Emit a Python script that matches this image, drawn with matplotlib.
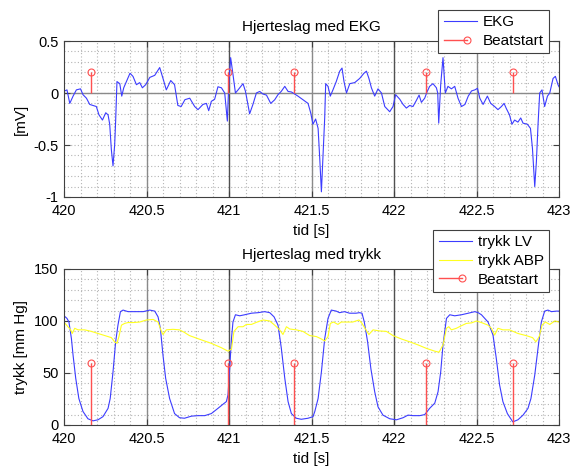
import matplotlib
matplotlib.use("Agg")
import matplotlib.pyplot as plt
from matplotlib.lines import Line2D
from matplotlib.legend_handler import HandlerLine2D
import numpy as np

plt.rcParams['font.family'] = ['Liberation Sans', 'DejaVu Sans']

# ---------------- data ----------------
ekg_t = [420.0, 420.004, 420.018, 420.035, 420.055, 420.075, 420.10, 420.115, 420.136, 420.156,
         420.176, 420.196, 420.212, 420.233, 420.253, 420.267, 420.277, 420.287, 420.297, 420.307,
         420.313, 420.321, 420.338, 420.35, 420.362, 420.378, 420.40, 420.418, 420.439, 420.459,
         420.475, 420.495, 420.52, 420.55, 420.58, 420.60, 420.62, 420.647, 420.67, 420.69,
         420.71, 420.733, 420.762, 420.792, 420.812, 420.842, 420.863, 420.877, 420.893, 420.913,
         420.933, 420.954, 420.974, 420.99, 420.998, 421.01, 421.024, 421.039, 421.055, 421.085,
         421.10, 421.125, 421.145, 421.166, 421.186, 421.206, 421.227, 421.253, 421.277, 421.297,
         421.317, 421.338, 421.358, 421.378, 421.398, 421.418, 421.448, 421.479, 421.495, 421.509,
         421.525, 421.54, 421.55, 421.56, 421.57, 421.58, 421.586, 421.60, 421.614, 421.63,
         421.65, 421.671, 421.685, 421.697, 421.712, 421.732, 421.762, 421.792, 421.818, 421.833,
         421.848, 421.863, 421.883, 421.903, 421.924, 421.944, 421.974, 421.994, 422.01, 422.035,
         422.055, 422.075, 422.095, 422.115, 422.136, 422.152, 422.166, 422.186, 422.20, 422.216,
         422.236, 422.257, 422.265, 422.271, 422.283, 422.297, 422.311, 422.327, 422.348, 422.368,
         422.388, 422.409, 422.43, 422.45, 422.47, 422.49, 422.506, 422.52, 422.54, 422.566,
         422.586, 422.61, 422.63, 422.651, 422.667, 422.681, 422.70, 422.715, 422.731, 422.751,
         422.768, 422.782, 422.808, 422.827, 422.839, 422.853, 422.863, 422.873, 422.883, 422.897,
         422.913, 422.93, 422.944, 422.964, 422.978, 422.994, 423.0]
ekg_v = [0.0, 0.02, 0.03, -0.10, -0.03, 0.03, 0.04, -0.016, -0.05, -0.11,
         -0.12, -0.13, -0.21, -0.26, -0.19, -0.21, -0.30, -0.545, -0.70, -0.50,
         -0.27, 0.11, 0.09, -0.03, 0.05, 0.11, 0.19, 0.16, 0.08, 0.10,
         0.05, 0.08, 0.15, 0.17, 0.245, 0.14, 0.03, 0.12, 0.08, -0.12,
         -0.13, -0.064, -0.05, -0.13, -0.16, -0.11, -0.10, -0.17, -0.08, -0.06,
         0.06, 0.05, 0.0, -0.27, 0.06, 0.34, 0.18, 0.0, 0.03, 0.09,
         0.015, -0.20, -0.11, 0.0, 0.015, -0.01, -0.02, -0.10, -0.065, -0.016,
         0.016, 0.064, 0.015, 0.01, -0.01, -0.03, -0.065, -0.10, -0.19, -0.30,
         -0.25, -0.34, -0.63, -0.95, -0.59, -0.24, 0.09, 0.064, -0.03, 0.03,
         0.11, 0.21, 0.24, 0.11, 0.0, 0.09, 0.10, 0.14, 0.19, 0.21,
         0.14, 0.05, -0.03, 0.04, 0.0, -0.13, -0.18, -0.13, -0.016, -0.06,
         -0.11, -0.145, -0.12, -0.13, -0.07, -0.02, -0.09, -0.05, 0.01, 0.064,
         0.09, 0.05, 0.0, -0.29, 0.08, 0.34, 0.0, 0.064, 0.04, 0.064,
         -0.05, -0.13, -0.11, -0.03, 0.02, 0.03, 0.045, -0.05, -0.11, -0.03,
         -0.10, -0.13, -0.16, -0.13, -0.10, -0.15, -0.21, -0.30, -0.26, -0.28,
         -0.24, -0.29, -0.30, -0.34, -0.53, -0.90, -0.66, -0.30, 0.0, 0.03,
         -0.13, -0.03, 0.0, 0.14, 0.16, 0.08, 0.06]

lv_t = [420.0, 420.018, 420.03, 420.045, 420.055, 420.071, 420.09, 420.115, 420.145, 420.176,
        420.206, 420.236, 420.267, 420.28, 420.297, 420.313, 420.327, 420.342, 420.358, 420.388,
        420.439, 420.48, 420.52, 420.55, 420.57, 420.584, 420.60, 420.616, 420.64, 420.67,
        420.70, 420.73, 420.772, 420.812, 420.853, 420.893, 420.933, 420.964, 420.984, 420.994,
        421.004, 421.015, 421.024, 421.039, 421.065, 421.095, 421.136, 421.176, 421.216, 421.247,
        421.273, 421.297, 421.317, 421.338, 421.358, 421.378, 421.408, 421.438, 421.479, 421.509,
        421.52, 421.54, 421.56, 421.58, 421.60, 421.62, 421.65, 421.67, 421.70, 421.73,
        421.77, 421.79, 421.806, 421.82, 421.84, 421.86, 421.883, 421.903, 421.933, 421.974,
        422.015, 422.055, 422.085, 422.115, 422.156, 422.186, 422.216, 422.247, 422.267, 422.283,
        422.297, 422.318, 422.338, 422.368, 422.409, 422.45, 422.49, 422.51, 422.53, 422.57,
        422.60, 422.62, 422.64, 422.66, 422.687, 422.72, 422.751, 422.782, 422.812, 422.83,
        422.853, 422.873, 422.893, 422.913, 422.933, 422.954, 422.984, 423.0]
lv_v = [105, 102.5, 99, 83, 67, 45, 25.5, 13, 6, 4,
        5, 8, 16, 25.5, 51, 80, 96, 109, 110.5, 109,
        109, 109, 110.5, 109.5, 104, 93, 67, 45, 25.5, 11,
        7, 6.5, 8.5, 9, 9, 11, 16, 20, 22.5, 29,
        54, 83, 99, 106, 105, 106, 107.5, 108, 109, 108,
        104, 96, 74, 45, 22.5, 11, 6.5, 5.5, 6.5, 8,
        13, 25.5, 51, 83, 102.5, 110.5, 109.5, 108, 109, 107.5,
        107.5, 108, 107.5, 99, 80, 54, 32, 17.5, 9.5, 6,
        5, 7, 9.5, 9, 9, 10, 16, 21, 32, 51,
        77, 102.5, 106, 105, 106, 107.5, 109, 108, 106, 99,
        86.5, 64, 38.5, 22.5, 11, 3, 5, 9.5, 16, 25.5,
        48, 74, 99, 109.5, 110.5, 109, 109.5, 109.5]

abp_t = [420.0, 420.024, 420.04, 420.05, 420.065, 420.085, 420.125, 420.166, 420.206, 420.247,
         420.287, 420.307, 420.321, 420.333, 420.348, 420.368, 420.388, 420.418, 420.459, 420.50,
         420.54, 420.57, 420.59, 420.60, 420.62, 420.66, 420.70, 420.73, 420.76, 420.812,
         420.893, 420.954, 420.994, 421.015, 421.03, 421.055, 421.085, 421.105, 421.136, 421.166,
         421.206, 421.247, 421.277, 421.307, 421.327, 421.348, 421.368, 421.408, 421.448, 421.489,
         421.53, 421.56, 421.58, 421.60, 421.614, 421.634, 421.66, 421.68, 421.71, 421.75,
         421.788, 421.806, 421.83, 421.848, 421.873, 421.913, 421.954, 421.994, 422.045, 422.095,
         422.146, 422.196, 422.247, 422.273, 422.297, 422.318, 422.332, 422.348, 422.378, 422.409,
         422.439, 422.47, 422.50, 422.53, 422.57, 422.59, 422.61, 422.63, 422.66, 422.70,
         422.751, 422.80, 422.84, 422.86, 422.88, 422.897, 422.918, 422.944, 422.975, 423.0]
abp_v = [99, 94.5, 91.5, 88, 93, 91.5, 91.5, 90, 88, 86,
         84, 80, 78.5, 85, 96, 97.7, 98.5, 98.5, 99, 101,
         101.5, 99, 90, 87, 91.5, 92, 91.5, 89, 86, 83,
         78.5, 74.3, 71, 73, 90, 94.5, 94.5, 96.7, 96.7, 98.7,
         101, 100, 96, 91.5, 87, 94.5, 92.3, 91.5, 90, 86,
         85, 82.7, 80.8, 85, 97.7, 99, 96.7, 99, 99, 99,
         101, 97.7, 91.5, 87, 91.5, 90.4, 90, 86, 82.7, 80,
         77, 73.7, 71, 70, 77, 93, 94.5, 91.5, 93, 95.5,
         97.7, 98.2, 100, 98.5, 96, 93, 86.5, 93, 91.5, 91.5,
         88, 86, 84, 80, 85, 96, 99, 96.7, 100, 99]

beat_t = [420.164, 420.994, 421.396, 422.196, 422.72]
beat_ekg = [0.2, 0.2, 0.2, 0.2, 0.2]
beat_p = [60, 60, 60, 60, 60]

xticks = [420, 420.5, 421, 421.5, 422, 422.5, 423]
xticklabels = ['420', '420.5', '421', '421.5', '422', '422.5', '423']
yticks_ekg = [-1, -0.5, 0, 0.5]
yticklabels_ekg = ['-1', '-0.5', '0', '0.5']
yticks_p = [0, 50, 100, 150]
yticklabels_p = ['0', '50', '100', '150']

# ---------------- plotting ----------------
W, H = 573, 468
fig = plt.figure(figsize=(W / 100, H / 100), dpi=100)

blue = '#3c3cff'
yellow = '#ffff20'
red = '#ff5050'
fs = 10.5
fs_t = 11


class StemHandler(HandlerLine2D):
    """Line with marker at ~70% of the handle, line ending at the marker."""
    def create_artists(self, legend, orig_handle, xdescent, ydescent, width,
                       height, fontsize, trans):
        ymid = (height - ydescent) / 2.0
        xm = -xdescent + 0.7 * width
        line = Line2D([-xdescent, xm], [ymid, ymid], color=orig_handle.get_color(),
                      lw=orig_handle.get_linewidth())
        mk = Line2D([xm], [ymid], marker='o', markersize=orig_handle.get_markersize(),
                    markerfacecolor='none', markeredgecolor=orig_handle.get_color(),
                    markeredgewidth=orig_handle.get_markeredgewidth(), ls='none')
        line.set_transform(trans)
        mk.set_transform(trans)
        return [line, mk]


def setup(ax, ylim, yticks, ylabels, yminor):
    ax.set_xlim(420, 423)
    ax.set_ylim(*ylim)
    ax.set_xticks(xticks)
    ax.set_xticklabels(xticklabels, fontsize=fs)
    ax.set_yticks(yticks)
    ax.set_yticklabels(ylabels, fontsize=fs)
    for x in np.arange(420.1, 423.0, 0.1):
        ax.axvline(x, color='#b4b4b4', lw=0.8, ls=(0, (1, 2)), zorder=0)
    for y in yminor:
        ax.axhline(y, color='#b4b4b4', lw=0.8, ls=(0, (1, 2)), zorder=0)
    for x in [420.5, 421, 421.5, 422, 422.5]:
        c = '#505050' if x in (421, 422) else '#8a8a8a'
        ax.axvline(x, color=c, lw=1.0, zorder=0.5)
    ax.tick_params(direction='in', top=True, right=True, length=4, width=0.8,
                   color='#404040')
    ax.tick_params(axis='x', pad=5)
    ax.tick_params(axis='y', pad=4)
    for s in ax.spines.values():
        s.set_color('#404040')
        s.set_linewidth(0.8)
    ax.set_xlabel('tid [s]', fontsize=fs_t, labelpad=4)


def add_legend(ax, handles, labels, top_px):
    leg = ax.legend(handles, labels, loc='upper right',
                    bbox_to_anchor=(549 / W, 1 - top_px / H),
                    bbox_transform=fig.transFigure, fontsize=fs_t, frameon=True,
                    fancybox=False, edgecolor='#404040', framealpha=1,
                    handlelength=2.2, handletextpad=0.35, borderpad=0.35,
                    labelspacing=0.3, borderaxespad=0,
                    handler_map={stem_proxy: StemHandler()})
    leg.get_frame().set_linewidth(0.8)
    return leg


stem_proxy = Line2D([], [], color=red, lw=1.0, marker='o', markersize=5,
                    markerfacecolor='none', markeredgewidth=0.8)

# top axes
ax1 = fig.add_axes([64 / W, 1 - 197 / H, 495 / W, 156 / H])
setup(ax1, (-1, 0.5), yticks_ekg, yticklabels_ekg, np.arange(-0.9, 0.5, 0.1))
ax1.axhline(0, color='#8a8a8a', lw=1.0, zorder=0.5)
l1, = ax1.plot(ekg_t, ekg_v, color=blue, lw=0.8, zorder=2)
ml, sl, bl = ax1.stem(beat_t, beat_ekg, basefmt=' ')
plt.setp(sl, color=red, lw=1.0)
plt.setp(ml, color=red, markerfacecolor='none', markersize=5, markeredgewidth=0.8)
ax1.set_ylabel('[mV]', fontsize=fs_t, labelpad=4)
ax1.set_title('Hjerteslag med EKG', fontsize=fs_t, pad=7)
add_legend(ax1, [l1, stem_proxy], ['EKG', 'Beatstart'], 10)

# bottom axes
ax2 = fig.add_axes([64 / W, 1 - 425 / H, 495 / W, 156 / H])
setup(ax2, (0, 150), yticks_p, yticklabels_p, np.arange(10, 150, 10))
l2, = ax2.plot(lv_t, lv_v, color=blue, lw=0.8, zorder=2)
l3, = ax2.plot(abp_t, abp_v, color=yellow, lw=0.8, zorder=2)
ml2, sl2, bl2 = ax2.stem(beat_t, beat_p, basefmt=' ')
plt.setp(sl2, color=red, lw=1.0)
plt.setp(ml2, color=red, markerfacecolor='none', markersize=5, markeredgewidth=0.8)
ax2.set_ylabel('trykk [mm Hg]', fontsize=fs_t, labelpad=4)
ax2.set_title('Hjerteslag med trykk', fontsize=fs_t, pad=7)
add_legend(ax2, [l2, l3, stem_proxy], ['trykk LV', 'trykk ABP', 'Beatstart'], 230)

fig.savefig('out.png', dpi=100)
